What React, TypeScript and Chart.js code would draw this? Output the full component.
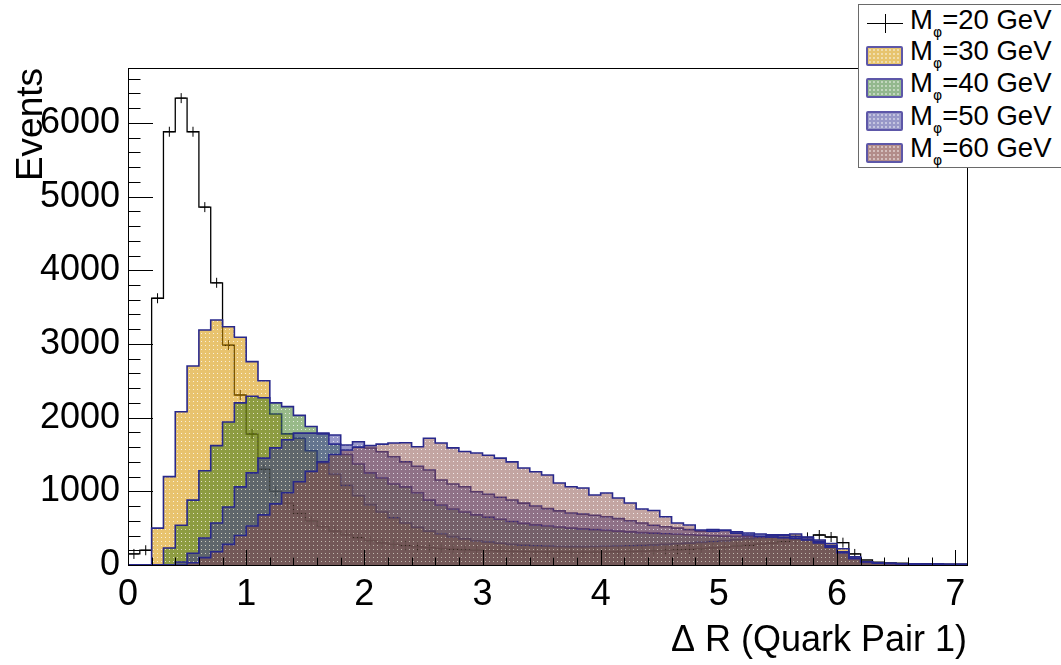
import React, { useEffect, useRef } from "react";
import { Chart, registerables } from "chart.js";

Chart.register(...registerables);

// ---- axis settings ----
const BIN_WIDTH = 0.1;
const X_MAX = 7.1;
const Y_MAX = 6745;
const X_TICKS: number[] = [0, 1, 2, 3, 4, 5, 6, 7];
const Y_TICKS: number[] = [0, 1000, 2000, 3000, 4000, 5000, 6000];
const X_MAJOR = 1;
const X_MINOR = 0.2;
const Y_MAJOR = 1000;
const Y_MINOR = 200;
const X_TITLE = "Δ R (Quark Pair 1)";
const Y_TITLE = "Events";

// ---- series (events per 0.1 bin, bins from 0.0 to 7.1) ----
const m20: number[] = [
  150, 200, 3620, 5880, 6336, 5880, 4857, 3830, 2985, 2307,
  1777, 1300, 1000, 840, 700, 600, 520, 460, 410, 370,
  330, 300, 280, 262, 248, 235, 224, 214, 206, 200,
  195, 190, 186, 183, 180, 178, 176, 175, 175, 176,
  178, 180, 183, 187, 192, 198, 205, 213, 222, 232,
  243, 255, 268, 282, 298, 318, 345, 375, 407, 380,
  303, 150, 68, 40, 30, 25, 20, 18, 15, 12, 10,
];
const m30: number[] = [
  0, 0, 500, 1200, 2080, 2700, 3190, 3324, 3234, 3090,
  2760, 2500, 2050, 1780, 1720, 1550, 1380, 1230, 1080, 940,
  820, 720, 640, 570, 510, 460, 420, 385, 355, 330,
  310, 295, 280, 270, 262, 256, 252, 250, 250, 252,
  255, 258, 262, 267, 273, 280, 288, 297, 307, 318,
  330, 343, 356, 370, 400, 410, 420, 380, 340, 290,
  220, 110, 40, 25, 20, 15, 12, 10, 8, 6, 5,
];
const m40: number[] = [
  0, 0, 0, 230, 540, 880, 1280, 1620, 1940, 2200,
  2290, 2270, 2200, 2150, 2030, 1880, 1780, 1640, 1500, 1370,
  1250, 1180, 1100, 1060, 980, 880, 815, 760, 720, 680,
  650, 620, 590, 565, 545, 530, 515, 500, 490, 480,
  470, 460, 450, 440, 432, 425, 418, 410, 403, 397,
  392, 388, 384, 380, 377, 373, 365, 345, 305, 245,
  165, 85, 35, 25, 20, 15, 12, 10, 8, 6, 5,
];
const m50: number[] = [
  0, 0, 0, 0, 40, 160, 366, 570, 787, 1060,
  1250, 1450, 1590, 1700, 1790, 1790, 1790, 1764, 1628, 1673,
  1587, 1537, 1470, 1400, 1340, 1290, 1153, 1100, 1062, 995,
  960, 920, 882, 840, 800, 765, 735, 705, 690, 675,
  655, 630, 600, 570, 540, 520, 500, 480, 460, 480,
  470, 450, 434, 420, 410, 400, 390, 370, 320, 260,
  180, 90, 40, 25, 20, 15, 12, 10, 8, 6, 5,
];
const m60: number[] = [
  0, 0, 0, 0, 0, 30, 100, 180, 280, 400,
  530, 680, 830, 980, 1130, 1270, 1400, 1500, 1560, 1600,
  1620, 1640, 1655, 1660, 1605, 1720, 1655, 1590, 1540, 1520,
  1490, 1450, 1400, 1316, 1266, 1221, 1112, 1062, 1045, 950,
  977, 909, 841, 760, 740, 655, 570, 543, 475, 460,
  470, 430, 407, 390, 380, 370, 360, 340, 300, 240,
  170, 90, 40, 25, 20, 15, 12, 10, 8, 6, 5,
];

const labels: string[] = ["20", "30", "40", "50", "60"];

const FONT = "'Liberation Sans', Arial, Helvetica, sans-serif";

function binLow(i: number) {
  return Math.round(i * BIN_WIDTH * 1000) / 1000;
}

function stepPoints(vals: number[]) {
  const pts: { x: number; y: number }[] = [{ x: 0, y: 0 }];
  vals.forEach((v, i) => pts.push({ x: binLow(i), y: v }));
  pts.push({ x: X_MAX, y: vals[vals.length - 1] });
  pts.push({ x: X_MAX, y: 0 });
  return pts;
}

function errPoints(vals: number[]) {
  const pts: { x: number; y: number }[] = [];
  vals.forEach((v, i) => {
    if (v >= 100) pts.push({ x: binLow(i) + BIN_WIDTH / 2, y: v });
  });
  return pts;
}

function makePattern(r: number, g: number, b: number, a: number) {
  const c = document.createElement("canvas");
  c.width = 4;
  c.height = 4;
  const cx = c.getContext("2d")!;
  cx.fillStyle = `rgba(${r},${g},${b},${a})`;
  cx.fillRect(0, 0, 4, 4);
  cx.clearRect(1, 1, 1, 1);
  cx.fillStyle = `rgba(${r},${g},${b},${a * 0.25})`;
  cx.fillRect(1, 1, 1, 1);
  return cx.createPattern(c, "repeat")!;
}

const rootAxes = {
  id: "rootAxes",
  afterDraw(chart: any) {
    const { ctx, chartArea: a, scales } = chart;
    const xs = scales.x;
    const ys = scales.y;
    ctx.save();
    ctx.strokeStyle = "#000";
    ctx.lineWidth = 1;
    ctx.strokeRect(a.left + 0.5, a.top + 0.5, a.right - a.left, a.bottom - a.top);
    ctx.beginPath();
    const ny = Math.floor(Y_MAX / Y_MINOR + 1e-9);
    for (let k = 0; k <= ny; k++) {
      const v = k * Y_MINOR;
      const py = Math.round(ys.getPixelForValue(v)) + 0.5;
      const len = v % Y_MAJOR === 0 ? 25 : 12.5;
      ctx.moveTo(a.left, py);
      ctx.lineTo(a.left + len, py);
    }
    const nx = Math.floor(X_MAX / X_MINOR + 1e-9);
    for (let k = 0; k <= nx; k++) {
      const v = k * X_MINOR;
      const px = Math.round(xs.getPixelForValue(v)) + 0.5;
      const major = Math.abs(v / X_MAJOR - Math.round(v / X_MAJOR)) < 1e-6;
      const len = major ? 15 : 7.5;
      ctx.moveTo(px, a.bottom);
      ctx.lineTo(px, a.bottom - len);
    }
    ctx.stroke();

    ctx.fillStyle = "#000";
    ctx.font = `36px ${FONT}`;
    ctx.textAlign = "right";
    ctx.textBaseline = "alphabetic";
    ctx.fillText(X_TITLE, a.right, 651);

    ctx.font = `37px ${FONT}`;
    ctx.translate(42, a.top);
    ctx.rotate(-Math.PI / 2);
    ctx.textAlign = "right";
    ctx.fillText(Y_TITLE, 0, 0);
    ctx.restore();
  },
};

const fillColors: [number, number, number, number][] = [
  [214, 150, 0, 0.57],
  [50, 118, 20, 0.5],
  [50, 50, 150, 0.5],
  [135, 75, 70, 0.5],
];
const swatchColors: string[] = ["#e7c46e", "#93b88e", "#9898c8", "#b28c8a"];
const EDGE = "rgb(40,40,140)";

export default function App() {
  const ref = useRef<HTMLCanvasElement>(null);

  useEffect(() => {
    const canvas = ref.current!;
    const filled = [m30, m40, m50, m60];
    const datasets: any[] = [
      {
        label: labels[0],
        data: stepPoints(m20),
        borderColor: "#000",
        borderWidth: 1.3,
        stepped: "before",
        fill: false,
        pointRadius: 0,
        order: 6,
      },
      {
        label: labels[0] + " err",
        data: errPoints(m20),
        showLine: false,
        pointStyle: "cross",
        pointRadius: 5,
        borderColor: "#000",
        borderWidth: 1,
        order: 6,
      },
    ];
    filled.forEach((vals, i) => {
      const [r, g, b, al] = fillColors[i];
      datasets.push({
        label: labels[i + 1],
        data: stepPoints(vals),
        borderColor: EDGE,
        borderWidth: 1.6,
        backgroundColor: makePattern(r, g, b, al),
        stepped: "before",
        fill: "origin",
        pointRadius: 0,
        order: 4 - i,
      });
    });

    const chart = new Chart(canvas, {
      type: "line",
      data: { datasets },
      options: {
        animation: false,
        responsive: false,
        maintainAspectRatio: false,
        layout: { padding: { left: 0, top: 68, right: 94, bottom: 0 } },
        plugins: {
          legend: { display: false },
          tooltip: { enabled: false },
        },
        scales: {
          x: {
            type: "linear",
            min: 0,
            max: X_MAX,
            afterFit: (s: any) => {
              s.height = 100;
            },
            afterBuildTicks: (s: any) => {
              s.ticks = X_TICKS.map((v) => ({ value: v }));
            },
            grid: { display: false },
            border: { display: false },
            ticks: {
              color: "#000",
              padding: 0,
              maxRotation: 0,
              autoSkip: false,
              font: { family: FONT, size: 36 },
              callback: (v: any) => String(v),
            },
          },
          y: {
            type: "linear",
            min: 0,
            max: Y_MAX,
            afterFit: (s: any) => {
              s.width = 128;
            },
            afterBuildTicks: (s: any) => {
              s.ticks = Y_TICKS.map((v) => ({ value: v }));
            },
            grid: { display: false },
            border: { display: false },
            ticks: {
              color: "#000",
              padding: 0,
              autoSkip: false,
              font: { family: FONT, size: 36 },
              callback: (v: any) => String(v),
            },
          },
        },
      } as any,
      plugins: [rootAxes],
    });
    return () => chart.destroy();
  }, []);

  const rowTop = [6, 37, 69, 102, 134];
  const swTop = [0, 46, 78, 111, 143];

  return (
    <div
      style={{
        position: "fixed",
        left: 0,
        top: 0,
        width: 1061,
        height: 665,
        overflow: "hidden",
        background: "#fff",
        fontFamily: FONT,
      }}
    >
      <canvas ref={ref} width={1061} height={665} style={{ display: "block" }} />
      <div
        style={{
          position: "absolute",
          left: 858,
          top: 4,
          width: 220,
          height: 164,
          border: "1px solid #6a6a6a",
          background: "#fff",
          boxSizing: "border-box",
        }}
      />
      {/* row 1 marker: cross */}
      <div style={{ position: "absolute", left: 867, top: 23, width: 36, height: 1, background: "#000" }} />
      <div style={{ position: "absolute", left: 885, top: 14, width: 1, height: 19, background: "#000" }} />
      {swatchColors.map((c, i) => (
        <div
          key={c}
          style={{
            position: "absolute",
            left: 866,
            top: swTop[i + 1],
            width: 37,
            height: 20,
            boxSizing: "border-box",
            border: "2px solid #5d57a8",
            borderRadius: 2,
            backgroundColor: c,
            backgroundImage:
              "radial-gradient(rgba(255,255,255,0.45) 0.7px, transparent 0.9px)",
            backgroundSize: "4px 4px",
          }}
        />
      ))}
      {labels.map((m, i) => (
        <div
          key={m}
          style={{
            position: "absolute",
            left: 910,
            top: rowTop[i],
            fontSize: 27.5,
            lineHeight: "28px",
            color: "#000",
            whiteSpace: "nowrap",
          }}
        >
          M
          <span
            style={{
              fontSize: 14,
              position: "relative",
              top: 8,
              fontFamily: "'DejaVu Sans', sans-serif",
              color: "#000",
            }}
          >
            φ
          </span>
          {"=" + m + " GeV"}
        </div>
      ))}
    </div>
  );
}
